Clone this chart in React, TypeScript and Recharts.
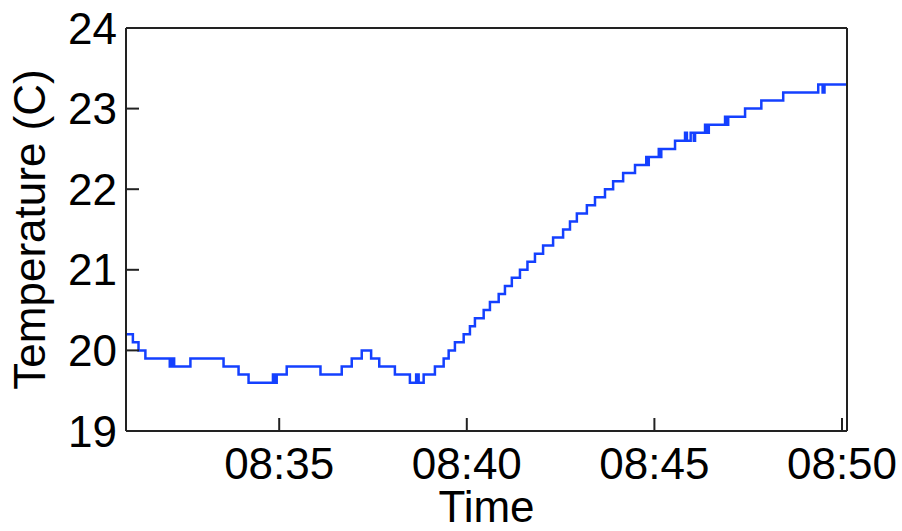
import { Line, LineChart, XAxis, YAxis } from "recharts";

// logged readings: time of each change, value after it (step plot)
const times = [
  "08:30:55", "08:31:06", "08:31:15", "08:31:26", "08:32:05", "08:32:09", "08:32:12",
  "08:32:38", "08:33:31", "08:33:55", "08:34:11", "08:34:50", "08:34:53", "08:34:56",
  "08:35:12", "08:36:06", "08:36:40", "08:36:56", "08:37:12", "08:37:27", "08:37:40",
  "08:38:05", "08:38:29", "08:38:39", "08:38:43", "08:38:51", "08:39:09", "08:39:23",
  "08:39:31", "08:39:41", "08:39:55", "08:40:05", "08:40:13", "08:40:27", "08:40:37",
  "08:40:51", "08:41:01", "08:41:12", "08:41:25", "08:41:37", "08:41:49", "08:42:02",
  "08:42:18", "08:42:34", "08:42:45", "08:42:56", "08:43:12", "08:43:25", "08:43:41",
  "08:43:54", "08:44:10", "08:44:29", "08:44:47", "08:44:49", "08:44:51", "08:45:07",
  "08:45:09", "08:45:11", "08:45:33", "08:45:49", "08:45:52", "08:45:58", "08:46:03",
  "08:46:05", "08:46:21", "08:46:24", "08:46:27", "08:46:53", "08:46:55", "08:46:58",
  "08:47:25", "08:47:51", "08:48:26", "08:49:22", "08:49:29", "08:49:32", "08:50:08",
];

const temps = [
  20.2, 20.1, 20.0, 19.9, 19.8, 19.9, 19.8,
  19.9, 19.8, 19.7, 19.6, 19.7, 19.6, 19.7,
  19.8, 19.7, 19.8, 19.9, 20.0, 19.9, 19.8,
  19.7, 19.6, 19.7, 19.6, 19.7, 19.8, 19.9,
  20.0, 20.1, 20.2, 20.3, 20.4, 20.5, 20.6,
  20.7, 20.8, 20.9, 21.0, 21.1, 21.2, 21.3,
  21.4, 21.5, 21.6, 21.7, 21.8, 21.9, 22.0,
  22.1, 22.2, 22.3, 22.4, 22.3, 22.4, 22.5,
  22.4, 22.5, 22.6, 22.7, 22.6, 22.7, 22.6,
  22.7, 22.8, 22.7, 22.8, 22.9, 22.8, 22.9,
  23.0, 23.1, 23.2, 23.3, 23.2, 23.3, 23.3,
];

const timeTicks = ["08:35", "08:40", "08:45", "08:50"];
const tempTicks = [19, 20, 21, 22, 23, 24];
const timeRange = ["08:30:55", "08:50:08"];

const FONT = "'Liberation Sans', Arial, Helvetica, sans-serif";
const AXIS = "#222";

function toMinutes(t: string) {
  const [h, m, s = "0"] = t.split(":");
  return Number(h) * 60 + Number(m) + Number(s) / 60;
}

function fmtTime(v: number) {
  const h = Math.floor(v / 60);
  const m = Math.round(v - h * 60);
  return `${String(h).padStart(2, "0")}:${String(m).padStart(2, "0")}`;
}

const data = times.map((t, i) => ({ t: toMinutes(t), temp: temps[i] }));

function XTitle(props: any) {
  const vb = props.viewBox ?? { x: 126, y: 431, width: 721 };
  return (
    <text x={vb.x + vb.width / 2} y={vb.y + 91} textAnchor="middle" fontSize={44} fontFamily={FONT} fill="#000">
      Time
    </text>
  );
}

function YTitle(props: any) {
  const vb = props.viewBox ?? { x: 0, y: 28, width: 126, height: 403 };
  const x = vb.x + 45;
  const y = vb.y + vb.height / 2;
  return (
    <text x={x} y={y} transform={`rotate(-90 ${x} ${y})`} textAnchor="middle" fontSize={44} fontFamily={FONT} fill="#000">
      Temperature (C)
    </text>
  );
}

export default function App() {
  const domain = timeRange.map(toMinutes);
  const xTicks = timeTicks.map(toMinutes);
  const tickStyle = { fontSize: 44, fill: "#000", fontFamily: FONT };
  const axisLine = { stroke: AXIS, strokeWidth: 2 };
  const tickLine = { stroke: AXIS, strokeWidth: 2 };

  return (
    <div style={{ position: "absolute", left: 0, top: 0, background: "#fff" }}>
      <LineChart width={902} height={531} data={data} margin={{ top: 0, right: 0, bottom: 0, left: 0 }}>
        <XAxis
          dataKey="t"
          type="number"
          domain={domain}
          ticks={xTicks}
          tickFormatter={fmtTime}
          height={100}
          tickSize={-13}
          tickMargin={30}
          axisLine={axisLine}
          tickLine={tickLine}
          tick={tickStyle}
          label={<XTitle />}
          allowDataOverflow
        />
        <XAxis
          xAxisId="top"
          orientation="top"
          type="number"
          domain={domain}
          ticks={xTicks}
          height={28}
          tickSize={-13}
          axisLine={axisLine}
          tickLine={tickLine}
          tick={false}
          allowDataOverflow
        />
        <YAxis
          type="number"
          domain={[19, 24]}
          ticks={tempTicks}
          width={126}
          tickSize={-13}
          tickMargin={22}
          axisLine={axisLine}
          tickLine={tickLine}
          tick={tickStyle}
          label={<YTitle />}
          allowDataOverflow
        />
        <YAxis
          yAxisId="right"
          orientation="right"
          type="number"
          domain={[19, 24]}
          ticks={tempTicks}
          width={55}
          tickSize={-13}
          axisLine={axisLine}
          tickLine={tickLine}
          tick={false}
          allowDataOverflow
        />
        <Line
          type="stepAfter"
          dataKey="temp"
          stroke="#1440ff"
          strokeWidth={2.5}
          dot={false}
          isAnimationActive={false}
        />
      </LineChart>
    </div>
  );
}
